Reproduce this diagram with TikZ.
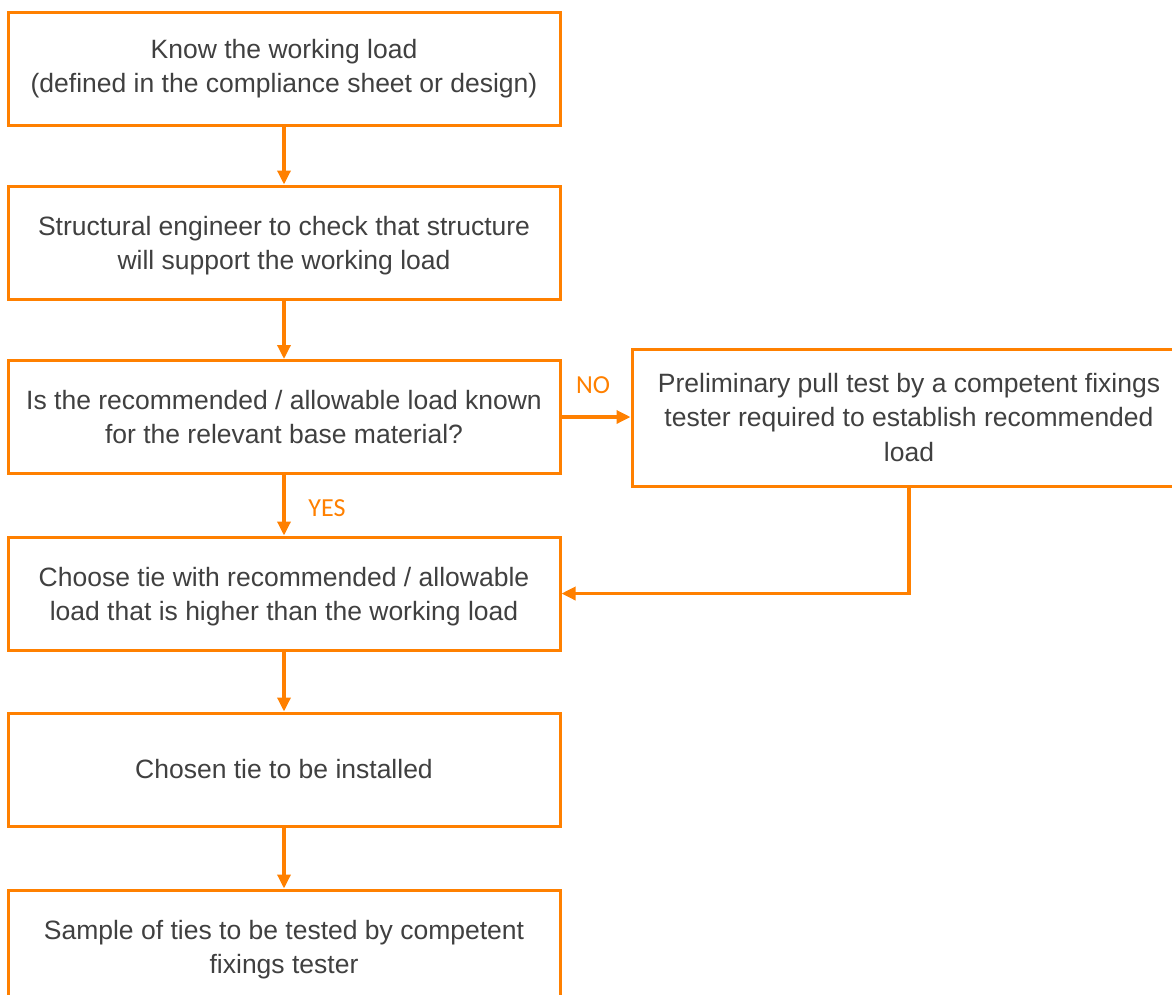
\documentclass[tikz,border=0pt]{standalone}
\usepackage{fontspec}
\setmainfont{Liberation Sans}
\newfontfamily\labelfont{Carlito}
\usetikzlibrary{arrows.meta}
\definecolor{flow}{RGB}{255,128,0}
\definecolor{txt}{RGB}{64,64,64}
\newcommand\lowerby{\rule{0pt}{25.5pt}}
\begin{document}
\begin{tikzpicture}[x=1pt,y=-1pt,
  box/.style={draw=flow,line width=3pt,fill=white,minimum width=552pt,minimum height=113pt,
    align=center,text=txt,font=\fontsize{26.5}{34.5}\selectfont,inner sep=0pt},
  conn/.style={draw=flow,line width=3.3pt,-{Triangle[width=13pt,length=14pt]}},
  lab/.style={text=flow,font=\labelfont\fontsize{26}{28}\selectfont,inner sep=0pt}]
\useasboundingbox (0,0) rectangle (1172,994);
\clip (0,0) rectangle (1172,994);
\node[box] (b1) at (284,68.5) {Know the working load\\(defined in the compliance sheet or design)};
\node[box] (b2) at (284,242.5) {\lowerby Structural engineer to check that structure\\will support the working load};
\node[box] (b3) at (284,417) {Is the recommended / allowable load known\\for the relevant base material?};
\node[box] (b4) at (284,593.5) {\lowerby Choose tie with recommended / allowable\\load that is higher than the working load};
\node[box] (b5) at (284,769.5) {Chosen tie to be installed};
\node[box] (b6) at (284,946.5) {\lowerby Sample of ties to be tested by competent\\fixings tester};
\node[box,minimum width=554pt,minimum height=137pt] (r) at (909,417.5) {Preliminary pull test by a competent fixings\\tester required to establish recommended\\load};
\draw[conn] (b1) -- (b2);
\draw[conn] (b2) -- (b3);
\draw[conn] (b3) -- (b4);
\draw[conn] (b4) -- (b5);
\draw[conn] (b5) -- (b6);
\draw[conn] (b3.east) -- (b3.east -| r.west);
\draw[conn] (r.south) |- (b4.east);
\node[lab] (no) at (593,385) {NO};
\node[lab] (yes) at (327,508) {YES};
\end{tikzpicture}
\end{document}
